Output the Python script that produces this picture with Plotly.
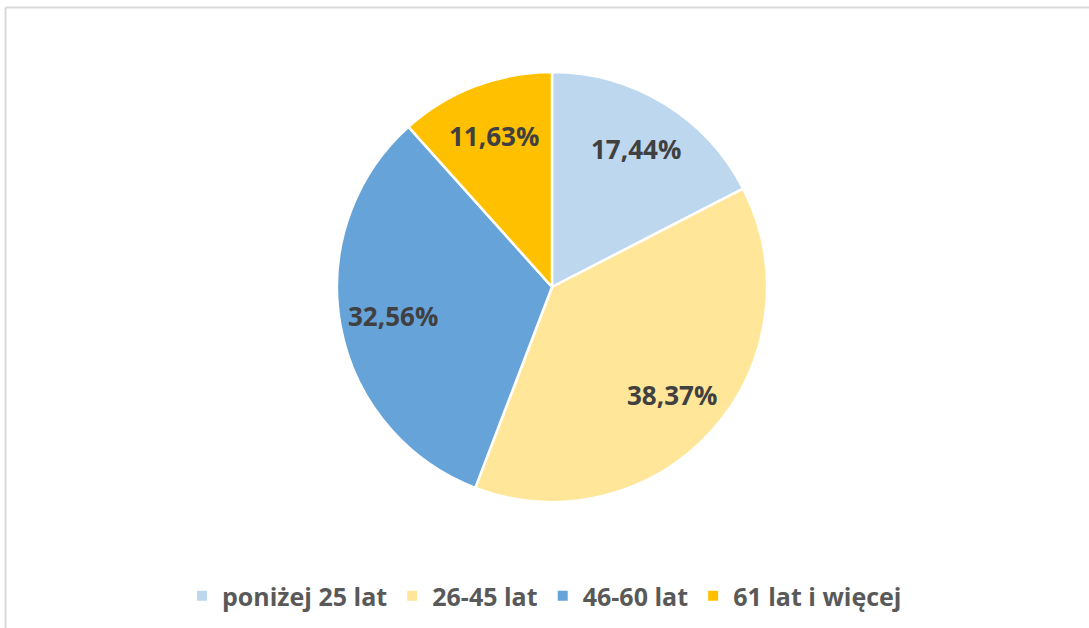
import math
import plotly.graph_objects as go

categories = ["poniżej 25 lat", "26-45 lat", "46-60 lat", "61 lat i więcej"]
values = [17.44, 38.37, 32.56, 11.63]
colors = ["#BDD7EE", "#FFE699", "#66A3D9", "#FFC000"]

W, H = 1089, 628
cx, cy, r = 552, 287, 215
label_r = 0.75

fig = go.Figure(go.Pie(
    labels=categories,
    values=values,
    sort=False,
    direction="clockwise",
    rotation=0,
    marker=dict(colors=colors, line=dict(color="white", width=2.5)),
    textinfo="none",
    domain=dict(x=[(cx - r) / W, (cx + r) / W], y=[1 - (cy + r) / H, 1 - (cy - r) / H]),
    hoverinfo="label+percent",
))

# data labels placed along each slice's mid-angle
total = sum(values)
annotations = []
cum = 0.0
for v in values:
    mid = (cum + v / 2) / total * 2 * math.pi
    cum += v
    px = cx + label_r * r * math.sin(mid)
    py = cy - label_r * r * math.cos(mid)
    pct = v / total * 100
    annotations.append(dict(
        x=px / W, y=1 - py / H, xref="paper", yref="paper",
        text=f"{pct:.2f}%".replace(".", ","), showarrow=False,
        xanchor="center", yanchor="middle",
        font=dict(family="Open Sans", size=26, color="#404040", weight="bold"),
    ))

fig.update_layout(
    width=W, height=H,
    margin=dict(l=0, r=0, t=0, b=0),
    paper_bgcolor="white",
    showlegend=True,
    annotations=annotations,
    legend=dict(
        orientation="h",
        x=0.5, xanchor="center",
        y=1 - 596 / H, yanchor="middle",
        font=dict(family="Open Sans", size=25, color="#595959", weight="bold"),
        itemsizing="constant",
        traceorder="normal",
    ),
    shapes=[
        dict(type="line", xref="paper", yref="paper", x0=5.5 / W, x1=1, y0=1 - 7.5 / H, y1=1 - 7.5 / H,
             line=dict(color="#D9D9D9", width=2)),
        dict(type="line", xref="paper", yref="paper", x0=5.5 / W, x1=5.5 / W, y0=0, y1=1 - 7.5 / H,
             line=dict(color="#D9D9D9", width=2)),
    ],
)

fig.write_html(
    "out.html",
    config={"displayModeBar": False},
    post_script="document.body.style.margin='0';document.body.style.padding='0';document.body.style.overflow='hidden';",
)
